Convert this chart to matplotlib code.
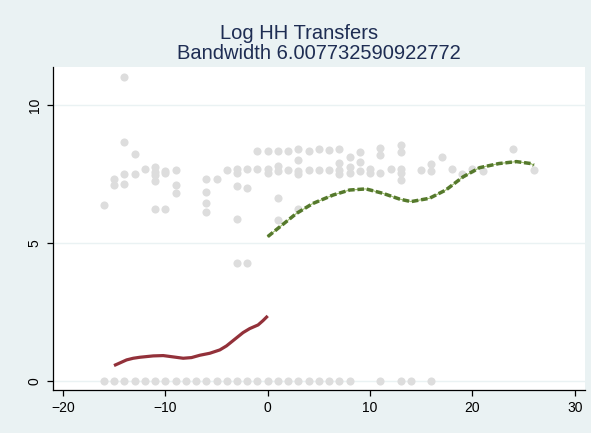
"""Log HH Transfers — local polynomial fit either side of the cutoff."""

import matplotlib

matplotlib.use("Agg")
import matplotlib.pyplot as plt

BG = "#EAF2F3"
NAVY = "#1E2D53"
DOT = "#DDDDDD"
RED = "#93313A"
GREEN = "#55792C"

# ── 산점도 데이터 ──────────────────────────────────────────────────────────
zero_x = list(range(-16, 9)) + [11, 13, 14, 16]
zero_y = [0.0] * len(zero_x)

pos_x = [
    -16, -15, -15, -14, -14, -14, -14, -13, -13, -12,
    -11, -11, -11, -11, -11, -10, -10, -10, -9, -9, -9,
    -6, -6, -6, -6, -5, -4, -3, -3, -3, -3, -3, -2, -2, -2,
    -1, -1, 0, 0, 0, 1, 1, 1, 1, 1, 2, 2, 3, 3, 3, 3, 3,
    4, 4, 5, 5, 6, 6, 7, 7, 7, 7, 8, 8, 8, 9, 9, 9, 10, 10,
    11, 11, 11, 12, 13, 13, 13, 13, 13, 15, 16, 16, 17, 18,
    19, 20, 21, 24, 26,
]
pos_y = [
    6.39, 7.31, 7.10, 11.0, 8.67, 7.50, 7.13, 8.24, 7.50, 7.68,
    7.74, 7.58, 7.46, 7.26, 6.22, 7.62, 7.52, 6.23, 7.63, 7.10, 6.80,
    7.31, 6.86, 6.46, 6.11, 7.31, 7.64, 7.70, 7.52, 7.08, 5.87, 4.29, 7.68, 7.00, 4.29,
    8.34, 7.68, 8.34, 7.70, 7.52, 8.34, 7.80, 7.60, 6.62, 5.83, 8.34, 7.65, 8.40, 8.00, 7.60, 7.50, 6.23,
    8.34, 7.65, 8.40, 7.65, 8.37, 7.65, 8.40, 7.90, 7.65, 7.50, 8.13, 7.75, 7.55, 8.30, 7.94, 7.60, 7.70, 7.55,
    8.45, 8.20, 7.55, 7.67, 8.55, 8.31, 7.70, 7.55, 7.30, 7.64, 7.88, 7.60, 8.13, 7.68,
    7.50, 7.67, 7.60, 8.39, 7.66,
]

# ── 적합선 (cutoff 좌/우) ──────────────────────────────────────────────────
left_x = [-15.02, -14.44, -13.79, -13.14, -12.49, -11.19, -10.21, -9.24, -8.26,
          -7.45, -6.63, -5.66, -4.68, -4.03, -3.22, -2.41, -1.76, -0.94, -0.46, 0.0]
left_y = [0.556, 0.652, 0.761, 0.821, 0.857, 0.906, 0.918, 0.870, 0.821,
          0.845, 0.930, 1.002, 1.123, 1.268, 1.510, 1.751, 1.896, 2.029, 2.186, 2.355]

right_x = [0.0, 1.2, 2.8, 4.4, 6.4, 8.0, 9.6, 11.25, 12.9, 14.0, 15.8, 17.4,
           19.1, 20.7, 22.6, 24.3, 25.7, 26.0]
right_y = [5.23, 5.59, 6.07, 6.43, 6.74, 6.92, 6.96, 6.80, 6.59, 6.50, 6.62, 6.92,
           7.40, 7.73, 7.88, 7.95, 7.88, 7.82]

plt.rcParams["font.family"] = ["Liberation Sans", "DejaVu Sans"]

fig = plt.figure(figsize=(5.91, 4.33), dpi=100, facecolor=BG)
ax = fig.add_axes([53 / 591, 1 - 390 / 433, 532 / 591, 323 / 433])
ax.set_facecolor("white")

ax.scatter(zero_x + pos_x, zero_y + pos_y, s=34, color=DOT, linewidths=0, zorder=2)

ax.plot(left_x, left_y, color=RED, linewidth=2.3, solid_capstyle="butt",
        solid_joinstyle="round", zorder=3)
ax.plot(right_x, right_y, color="#9DBF6A", linewidth=0.8, zorder=3)
ax.plot(right_x, right_y, color=GREEN, linewidth=2.5, dashes=(1.9, 0.8),
        dash_capstyle="butt", zorder=4)

ax.set_xlim(-20.98, 31.0)
ax.set_ylim(-0.33, 11.38)
ax.set_xticks([-20, -10, 0, 10, 20, 30])
ax.set_yticks([0, 5, 10])
ax.grid(axis="y", color=BG, linewidth=1.0, zorder=1)
ax.set_axisbelow(True)

for side in ("top", "right"):
    ax.spines[side].set_visible(False)
for side in ("left", "bottom"):
    ax.spines[side].set_linewidth(0.9)
ax.tick_params(direction="out", length=4.5, width=0.9, labelsize=10, colors="black")
for lab in ax.get_yticklabels():
    lab.set_rotation(90)
    lab.set_va("center")

fig.text(299 / 591, 1 - 39 / 433, "Log HH Transfers", ha="center", va="baseline",
         fontsize=14.5, color=NAVY)
fig.text(319 / 591, 1 - 59 / 433, "Bandwidth 6.007732590922772", ha="center",
         va="baseline", fontsize=14.5, color=NAVY)

fig.savefig("out.png", dpi=100, facecolor=BG)
plt.close(fig)
